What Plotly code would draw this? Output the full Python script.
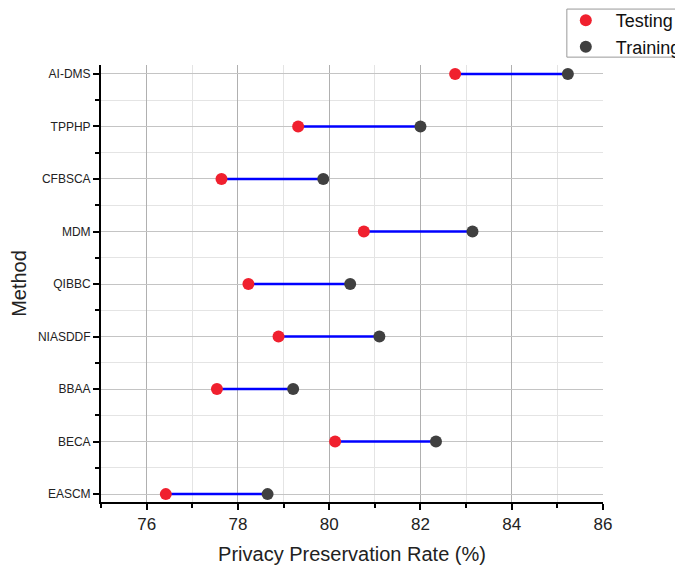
import plotly.graph_objects as go

methods = ["EASCM", "BECA", "BBAA", "NIASDDF", "QIBBC", "MDM", "CFBSCA", "TPPHP", "AI-DMS"]
testing = [76.42, 80.13, 77.54, 78.89, 78.23, 80.76, 77.64, 79.32, 82.76]
training = [78.65, 82.34, 79.21, 81.10, 80.46, 83.14, 79.87, 82.00, 85.23]
x_ticks = [76, 78, 80, 82, 84, 86]

ypos = list(range(len(methods)))

lx, ly = [], []
for i, (a, b) in enumerate(zip(testing, training)):
    lx += [a, b, None]
    ly += [i, i, None]

fig = go.Figure()
fig.add_trace(go.Scatter(x=lx, y=ly, mode="lines", line=dict(color="#0000FF", width=2.5),
                         showlegend=False, hoverinfo="skip"))
fig.add_trace(go.Scatter(x=testing, y=ypos, mode="markers", name="Testing",
                         marker=dict(color="#F0202E", size=12)))
fig.add_trace(go.Scatter(x=training, y=ypos, mode="markers", name="Training",
                         marker=dict(color="#404040", size=12)))

font = "Liberation Sans, Arial, sans-serif"
fig.update_layout(
    width=675, height=565,
    margin=dict(l=93, r=80, t=57, b=71, autoexpand=False),
    paper_bgcolor="white", plot_bgcolor="white",
    font=dict(family=font, color="#222222"),
    legend=dict(x=0.906, y=1.144, xanchor="left", yanchor="top",
                borderwidth=0, bgcolor="rgba(0,0,0,0)",
                font=dict(size=18, family=font, color="#111111"),
                tracegroupgap=0, itemwidth=50),
    shapes=[dict(type="rect", xref="paper", yref="paper", x0=0.928, x1=1.2, y0=1.018, y1=1.128,
                 line=dict(color="#999999", width=1), fillcolor="rgba(0,0,0,0)", layer="below")],
    xaxis=dict(
        range=[75, 86], tickmode="array", tickvals=x_ticks,
        ticks="outside", ticklen=6, tickwidth=1.5, tickcolor="black",
        showline=True, linecolor="black", linewidth=2, mirror=False,
        showgrid=True, gridcolor="#b0b0b0", gridwidth=1,
        tickfont=dict(size=17, color="#222222"),
        title=dict(text="Privacy Preservation Rate (%)", font=dict(size=20, color="#222222"), standoff=14),
        minor=dict(tickmode="array", tickvals=[75, 77, 79, 81, 83, 85], ticks="outside", ticklen=4,
                   tickcolor="black", showgrid=True, gridcolor="#e4e4e4", gridwidth=1),
        zeroline=False,
    ),
    yaxis=dict(
        range=[-0.15, 8.17], tickmode="array", tickvals=ypos, ticktext=methods,
        ticks="outside", ticklen=6, tickwidth=1.5, tickcolor="black",
        showline=True, linecolor="black", linewidth=2,
        showgrid=True, gridcolor="#c4c4c4", gridwidth=1,
        tickfont=dict(size=12, color="#222222"),
        title=dict(text="Method", font=dict(size=20, color="#222222"), standoff=14),
        minor=dict(tickmode="array", tickvals=[i + 0.5 for i in range(len(methods) - 1)],
                   ticks="outside", ticklen=4, tickcolor="black",
                   showgrid=True, gridcolor="#e4e4e4", gridwidth=1),
        zeroline=False,
    ),
)

fig.write_html("out.html")
